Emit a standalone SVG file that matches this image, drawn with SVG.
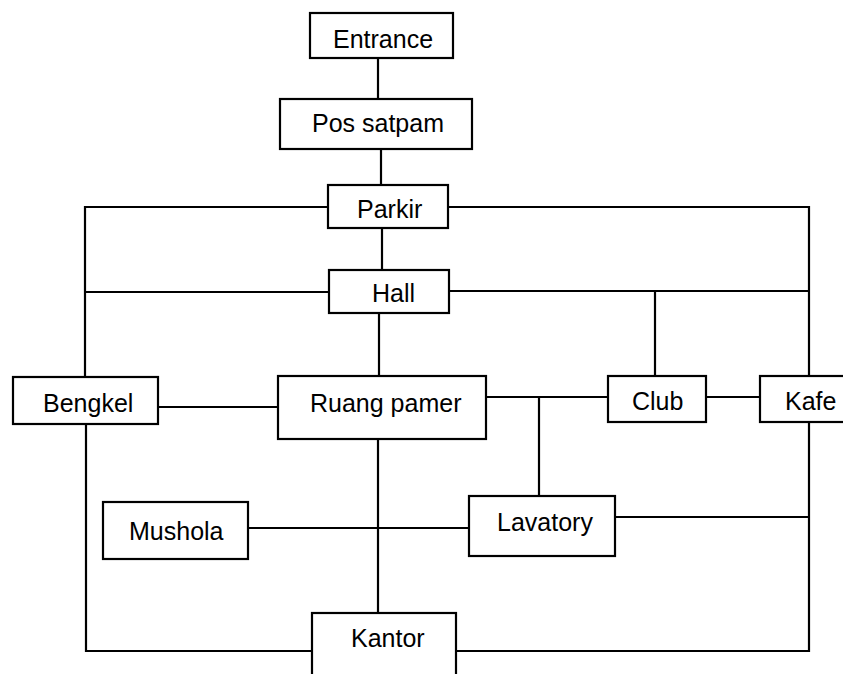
<svg xmlns="http://www.w3.org/2000/svg" width="843" height="674" viewBox="0 0 843 674">
<style>
.box{fill:#fff;stroke:#000;stroke-width:2.2}
.lbl{font-family:"Liberation Sans",Arial,sans-serif;font-size:25px;fill:#000}
.ln{stroke:#000;stroke-width:2.2;fill:none}
</style>
<rect width="843" height="674" fill="#fff"/>
<g id="connectors">
<line class="ln" x1="378" y1="58" x2="378" y2="99"/>
<line class="ln" x1="381" y1="149" x2="381" y2="185"/>
<line class="ln" x1="382" y1="228" x2="382" y2="270"/>
<line class="ln" x1="379" y1="313" x2="379" y2="376"/>
<polyline class="ln" points="328,207 85,207 85,377"/>
<line class="ln" x1="85" y1="292" x2="329" y2="292"/>
<polyline class="ln" points="86,424 86,651 312,651"/>
<polyline class="ln" points="448,207 809,207 809,376"/>
<line class="ln" x1="449" y1="291" x2="809" y2="291"/>
<line class="ln" x1="655" y1="291" x2="655" y2="376"/>
<line class="ln" x1="158" y1="407" x2="278" y2="407"/>
<line class="ln" x1="486" y1="397" x2="608" y2="397"/>
<line class="ln" x1="539" y1="397" x2="539" y2="496"/>
<line class="ln" x1="706" y1="397" x2="760" y2="397"/>
<polyline class="ln" points="809,422 809,651 456,651"/>
<line class="ln" x1="615" y1="517" x2="809" y2="517"/>
<line class="ln" x1="248" y1="528" x2="469" y2="528"/>
<line class="ln" x1="378" y1="439" x2="378" y2="613"/>
</g>
<g id="entrance"><rect class="box" x="310" y="13" width="143" height="45"/><text class="lbl" x="333" y="48">Entrance</text></g>
<g id="pos-satpam"><rect class="box" x="280" y="99" width="192" height="50"/><text class="lbl" x="312" y="132">Pos satpam</text></g>
<g id="parkir"><rect class="box" x="328" y="185" width="120" height="43"/><text class="lbl" x="357" y="218">Parkir</text></g>
<g id="hall"><rect class="box" x="329" y="270" width="120" height="43"/><text class="lbl" x="372" y="302">Hall</text></g>
<g id="bengkel"><rect class="box" x="13" y="377" width="145" height="47"/><text class="lbl" x="43" y="412">Bengkel</text></g>
<g id="ruang-pamer"><rect class="box" x="278" y="376" width="208" height="63"/><text class="lbl" x="310" y="412">Ruang pamer</text></g>
<g id="club"><rect class="box" x="608" y="376" width="98" height="46"/><text class="lbl" x="632" y="410">Club</text></g>
<g id="kafe"><rect class="box" x="760" y="376" width="90" height="46"/><text class="lbl" x="785" y="410">Kafe</text></g>
<g id="lavatory"><rect class="box" x="469" y="496" width="146" height="60"/><text class="lbl" x="497" y="531">Lavatory</text></g>
<g id="mushola"><rect class="box" x="103" y="502" width="145" height="57"/><text class="lbl" x="129" y="540">Mushola</text></g>
<g id="kantor"><rect class="box" x="312" y="613" width="144" height="70"/><text class="lbl" x="351" y="647">Kantor</text></g>
</svg>
